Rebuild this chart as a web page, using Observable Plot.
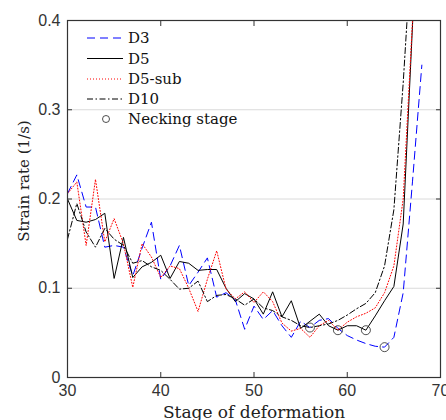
<!DOCTYPE html>
<html><head><meta charset="utf-8">
<script src="https://cdn.jsdelivr.net/npm/d3@7"></script>
<script src="https://cdn.jsdelivr.net/npm/@observablehq/plot@0.6"></script>
<style>
body{margin:0;background:#fff;}
#wrap{position:relative;width:446px;height:420px;}
#legend{position:absolute;left:0;top:0;pointer-events:none;}
</style></head><body><div id="wrap"></div>
<script>
// ---- data ----
const stagesD3 = d3.range(30, 69);
const rateD3 = [0.206,0.227,0.191,0.191,0.146,0.148,0.146,0.114,0.145,0.174,
  0.110,0.125,0.148,0.103,0.118,0.134,0.090,0.095,0.087,0.054,
  0.080,0.065,0.075,0.058,0.045,0.063,0.056,0.064,0.066,0.055,
  0.047,0.042,0.038,0.035,0.034,0.045,0.095,0.220,0.350];
const stagesD5 = d3.range(30, 69);
const rateD5 = [0.200,0.176,0.174,0.177,0.184,0.111,0.157,0.112,0.124,0.129,
  0.137,0.111,0.130,0.128,0.120,0.121,0.121,0.100,0.085,0.094,
  0.088,0.071,0.096,0.068,0.086,0.055,0.063,0.071,0.058,0.053,
  0.058,0.058,0.053,0.069,0.086,0.102,0.172,0.395,0.620];
const stagesD5sub = d3.range(30, 69);
const rateD5sub = [0.206,0.219,0.148,0.222,0.152,0.178,0.150,0.101,0.150,0.135,
  0.112,0.125,0.122,0.100,0.074,0.110,0.142,0.099,0.088,0.096,
  0.084,0.096,0.085,0.061,0.052,0.055,0.045,0.058,0.064,0.053,
  0.062,0.068,0.072,0.078,0.095,0.125,0.200,0.400,0.620];
const stagesD10 = d3.range(30, 68);
const rateD10 = [0.155,0.195,0.163,0.146,0.167,0.155,0.148,0.128,0.131,0.124,
  0.120,0.110,0.099,0.100,0.108,0.085,0.092,0.093,0.088,0.081,
  0.088,0.078,0.075,0.068,0.064,0.058,0.056,0.058,0.060,0.064,
  0.070,0.077,0.083,0.095,0.125,0.188,0.330,0.500];
const neckStage = [56, 59, 62, 64];
const neckRate = [0.056, 0.053, 0.053, 0.034];
const xTicks = [30, 40, 50, 60, 70];
const yTicks = [0, 0.1, 0.2, 0.3, 0.4];
const yGrid = [0.1, 0.2, 0.3];
const xLabel = "Stage of deformation";
const yLabel = "Strain rate (1/s)";
const legendLabels = ["D3", "D5", "D5-sub", "D10", "Necking stage"];

const toRows = (xs, ys) => xs.map((s, i) => ({stage: s, rate: ys[i]}));
const serif = "'DejaVu Serif', serif";
const sans = "'Liberation Sans', Arial, sans-serif";
const axisColor = "#333";

const chart = Plot.plot({
  width: 446, height: 420,
  marginLeft: 67, marginRight: 6, marginTop: 20, marginBottom: 43,
  x: {domain: [30, 70]},
  y: {domain: [0, 0.4]},
  style: {fontFamily: sans, fontSize: "16px", color: axisColor, background: "#fff"},
  marks: [
    Plot.gridY(yGrid, {stroke: "#dadada", strokeOpacity: 1, strokeWidth: 1}),
    Plot.line(toRows(stagesD3, rateD3), {x: "stage", y: "rate", stroke: "#0000ff", strokeWidth: 1, strokeDasharray: "8,5", clip: true}),
    Plot.line(toRows(stagesD5, rateD5), {x: "stage", y: "rate", stroke: "#000", strokeWidth: 1, clip: true}),
    Plot.line(toRows(stagesD5sub, rateD5sub), {x: "stage", y: "rate", stroke: "#ff0000", strokeWidth: 1, strokeDasharray: "1,2", clip: true}),
    Plot.line(toRows(stagesD10, rateD10), {x: "stage", y: "rate", stroke: "#000", strokeWidth: 1, strokeDasharray: "6,2.5,1.5,2.5", clip: true}),
    Plot.dot(toRows(neckStage, neckRate), {x: "stage", y: "rate", r: 4.5, stroke: "#222", strokeWidth: 0.8, fill: "none"}),
    Plot.frame({stroke: axisColor, strokeWidth: 1.2}),
    Plot.axisX(xTicks, {anchor: "bottom", tickSize: -5, text: null, label: null, stroke: axisColor}),
    Plot.axisX(xTicks, {anchor: "top", tickSize: -5, text: null, label: null, stroke: axisColor}),
    Plot.axisY(yTicks, {anchor: "left", tickSize: -5, text: null, label: null, stroke: axisColor}),
    Plot.axisY(yTicks, {anchor: "right", tickSize: -5, text: null, label: null, stroke: axisColor}),
    Plot.axisX(xTicks, {anchor: "bottom", tickSize: 0, tickPadding: 7, label: null, fontSize: 16, fill: axisColor}),
    Plot.axisY(yTicks, {anchor: "left", tickSize: 0, tickPadding: 7, label: null, fontSize: 16, fill: axisColor, tickFormat: d => String(d)}),
    Plot.text([xLabel], {frameAnchor: "bottom", textAnchor: "middle", lineAnchor: "bottom", dy: 40, fontFamily: serif, fontSize: 17, fill: "#222"}),
    Plot.text([yLabel], {frameAnchor: "left", textAnchor: "middle", dx: -43, dy: -18, rotate: -90, fontFamily: serif, fontSize: 15, fill: "#222"})
  ]
});
const wrap = document.getElementById("wrap");
wrap.appendChild(chart);

// ---- legend (inside axes, no box) ----
const legendStyles = [
  {stroke: "#0000ff", dash: "8,5"},
  {stroke: "#000", dash: null},
  {stroke: "#ff0000", dash: "1,2"},
  {stroke: "#000", dash: "6,2.5,1.5,2.5"},
  {circle: true}
];
const leg = d3.select(wrap).append("svg").attr("id", "legend").attr("width", 446).attr("height", 140);
const rowY = [38, 58.5, 79, 99, 119];
legendLabels.forEach((lab, i) => {
  const st = legendStyles[i];
  const g = leg.append("g").attr("transform", `translate(0,${rowY[i]})`);
  if (st.circle) {
    g.append("circle").attr("cx", 106).attr("cy", 0).attr("r", 3.5).attr("fill", "none").attr("stroke", "#222").attr("stroke-width", 0.8);
  } else {
    g.append("line").attr("x1", 87).attr("x2", 123).attr("y1", 0).attr("y2", 0)
      .attr("stroke", st.stroke).attr("stroke-width", 1).attr("stroke-dasharray", st.dash);
  }
  g.append("text").attr("x", 128).attr("y", 0).attr("dy", "0.35em")
    .attr("font-family", serif).attr("font-size", 15).attr("fill", "#111").text(lab);
});
</script></body></html>
